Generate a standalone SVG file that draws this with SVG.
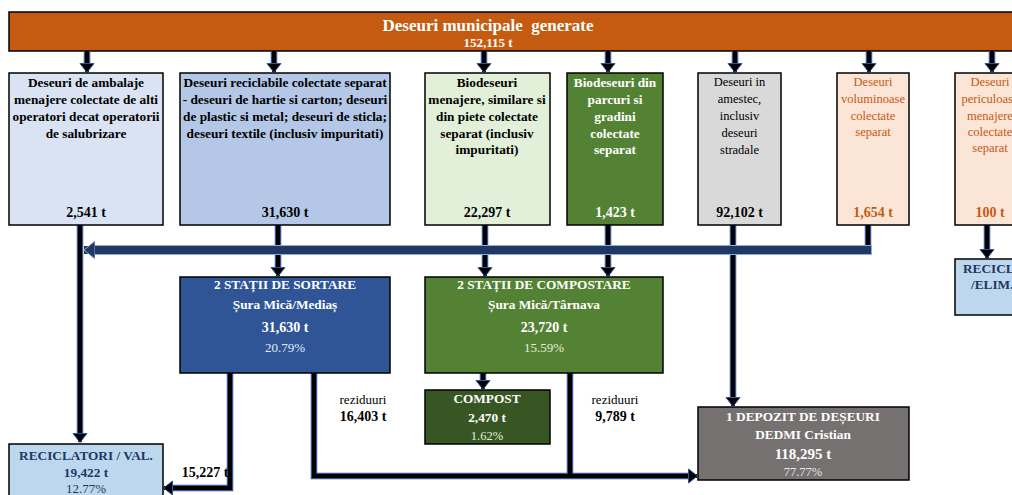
<svg xmlns="http://www.w3.org/2000/svg" width="1012" height="495" viewBox="0 0 1012 495">
<style>
text{font-family:"Liberation Serif","Times New Roman",serif;font-size:12.5px;text-anchor:middle}
.b{font-weight:bold;font-size:13.3px}
.a{font-weight:bold;font-size:14px}
.w{fill:#ffffff}
.k{fill:#000000}
.o{fill:#c55a11}
.n{fill:#1f3864}
.box{stroke:#000;stroke-width:1.5}
.edge{fill:none;stroke:#2f5597;stroke-width:6.5}
.core{fill:none;stroke:#000;stroke-width:4}
.big{fill:none;stroke:#8faadc;stroke-width:10}
.bigc{fill:none;stroke:#1f3864;stroke-width:8}
</style>
<defs>
<marker id="ah" markerUnits="userSpaceOnUse" viewBox="0 0 10 16" refX="9" refY="8" markerWidth="10" markerHeight="16" orient="auto">
<path d="M0.5,1 L9.5,8 L0.5,15 Z" fill="#000" stroke="#2f5597" stroke-width="1"/>
</marker>
<marker id="ahb" markerUnits="userSpaceOnUse" viewBox="0 0 12 18" refX="11" refY="9" markerWidth="12" markerHeight="18" orient="auto">
<path d="M0,0 L11,9 L0,18 Z" fill="#1f3864" stroke="#8faadc" stroke-width="1"/>
</marker>
</defs>

<g id="n-total">
<rect class="box" x="9" y="12" width="1015" height="39" fill="#c55a11"/>
<text class="w" x="488" y="31" xml:space="preserve" style="font-weight:bold;font-size:17px">Deseuri municipale  generate</text>
<text class="w" x="488" y="47" style="font-weight:bold;font-size:13px">152,115 t</text>
</g>

<g id="connectors">
<g id="top-arrows">
<path class="edge" d="M87 51V64 M274 51V64 M484 51V64 M608 51V64 M735 51V64 M869 51V64 M992 51V64"/>
<path class="core" d="M87 51V72" marker-end="url(#ah)"/>
<path class="core" d="M274 51V72" marker-end="url(#ah)"/>
<path class="core" d="M484 51V72" marker-end="url(#ah)"/>
<path class="core" d="M608 51V72" marker-end="url(#ah)"/>
<path class="core" d="M735 51V72" marker-end="url(#ah)"/>
<path class="core" d="M869 51V72" marker-end="url(#ah)"/>
<path class="core" d="M992 51V72" marker-end="url(#ah)"/>
</g>
<path class="edge" d="M80 225V434 M278 225V268 M485 225V268 M608 225V268 M733 225V398 M868 225V250 M987 225V251 M483 373V382 M230 373V488H170 M314 373V476H689 M570 373V476"/>
<path class="core" d="M80 225V442" marker-end="url(#ah)"/>
<path class="core" d="M278 225V276" marker-end="url(#ah)"/>
<path class="core" d="M485 225V276" marker-end="url(#ah)"/>
<path class="core" d="M608 225V276" marker-end="url(#ah)"/>
<path class="core" d="M733 225V406" marker-end="url(#ah)"/>
<path class="core" d="M868 225V250"/>
<path class="core" d="M987 225V258" marker-end="url(#ah)"/>
<path class="core" d="M483 373V389" marker-end="url(#ah)"/>
<path class="core" d="M230 373V488H164" marker-end="url(#ah)"/>
<path class="core" d="M314 373V476H697" marker-end="url(#ah)"/>
<path class="core" d="M570 373V476"/>
<path class="big" d="M872 250H94"/>
<path class="bigc" d="M871 250H84" marker-end="url(#ahb)"/>
</g>

<g id="n-ambalaje">
<rect class="box" x="9" y="73" width="154" height="152" fill="#dae3f3"/>
<text class="b k" x="86" y="87">Deseuri de ambalaje</text>
<text class="b k" x="86" y="104">menajere colectate de alti</text>
<text class="b k" x="86" y="121">operatori decat operatorii</text>
<text class="b k" x="86" y="138">de salubrizare</text>
<text class="a k" x="86" y="217">2,541 t</text>
</g>

<g id="n-reciclabile">
<rect class="box" x="180" y="73" width="210" height="152" fill="#b4c7e7"/>
<text class="b k" x="285" y="87">Deseuri reciclabile colectate separat</text>
<text class="b k" x="285" y="104">- deseuri de hartie si carton; deseuri</text>
<text class="b k" x="285" y="121">de plastic si metal; deseuri de sticla;</text>
<text class="b k" x="285" y="138">deseuri textile (inclusiv impuritati)</text>
<text class="a k" x="285" y="217">31,630 t</text>
</g>

<g id="n-biomenajere">
<rect class="box" x="425" y="73" width="125" height="152" fill="#e2f0d9"/>
<text class="b k" x="487" y="87">Biodeseuri</text>
<text class="b k" x="487" y="104">menajere, similare si</text>
<text class="b k" x="487" y="121">din piete colectate</text>
<text class="b k" x="487" y="138">separat (inclusiv</text>
<text class="b k" x="487" y="154">impuritati)</text>
<text class="a k" x="487" y="217">22,297 t</text>
</g>

<g id="n-bioparcuri">
<rect class="box" x="567" y="73" width="96" height="152" fill="#548235"/>
<text class="b w" x="615" y="87">Biodeseuri din</text>
<text class="b w" x="615" y="104">parcuri si</text>
<text class="b w" x="615" y="121">gradini</text>
<text class="b w" x="615" y="138">colectate</text>
<text class="b w" x="615" y="154">separat</text>
<text class="a w" x="615" y="217">1,423 t</text>
</g>

<g id="n-amestec">
<rect class="box" x="698" y="73" width="83" height="152" fill="#d9d9d9"/>
<text class="k" x="739.5" y="86">Deseuri in</text>
<text class="k" x="739.5" y="103">amestec,</text>
<text class="k" x="739.5" y="120">inclusiv</text>
<text class="k" x="739.5" y="137">deseuri</text>
<text class="k" x="739.5" y="154">stradale</text>
<text class="a k" x="739.5" y="217">92,102 t</text>
</g>

<g id="n-voluminoase">
<rect class="box" x="837" y="73" width="72" height="152" fill="#fbe5d6"/>
<text class="o" x="873" y="86">Deseuri</text>
<text class="o" x="873" y="103">voluminoase</text>
<text class="o" x="873" y="120">colectate</text>
<text class="o" x="873" y="136">separat</text>
<text class="a o" x="873" y="217">1,654 t</text>
</g>

<g id="n-periculoase">
<rect class="box" x="955" y="73" width="75" height="152" fill="#fbe5d6"/>
<text class="o" x="990" y="86">Deseuri</text>
<text class="o" x="990" y="103">periculoase</text>
<text class="o" x="990" y="120">menajere</text>
<text class="o" x="990" y="136">colectate</text>
<text class="o" x="990" y="152">separat</text>
<text class="a o" x="990" y="217">100 t</text>
</g>

<g id="n-sortare">
<rect class="box" x="180" y="277" width="210" height="96" fill="#2f5597"/>
<text class="b w" x="285" y="289">2 STAȚII DE SORTARE</text>
<text class="b w" x="285" y="309">Șura Mică/Mediaș</text>
<text class="a w" x="285" y="332">31,630 t</text>
<text x="285" y="352" fill="#e4ebf7" style="font-size:13px">20.79%</text>
</g>

<g id="n-compostare">
<rect class="box" x="425" y="277" width="238" height="96" fill="#548235"/>
<text class="b w" x="544" y="289">2 STAȚII DE COMPOSTARE</text>
<text class="b w" x="544" y="309">Șura Mică/Târnava</text>
<text class="a w" x="544" y="332">23,720 t</text>
<text x="544" y="352" fill="#e2f0d9" style="font-size:13px">15.59%</text>
</g>

<g id="n-compost">
<rect class="box" x="425" y="390" width="125" height="54" fill="#375623"/>
<text class="b w" x="487" y="403">COMPOST</text>
<text class="b w" x="487" y="422">2,470 t</text>
<text x="487" y="440" fill="#e2f0d9">1.62%</text>
</g>

<g id="n-reciclatori">
<rect class="box" x="9" y="444" width="154" height="60" fill="#bdd7ee"/>
<text class="b n" x="86" y="460">RECICLATORI / VAL.</text>
<text class="b n" x="86" y="477">19,422 t</text>
<text class="n" x="86" y="493" style="font-size:13px">12.77%</text>
</g>

<g id="n-depozit">
<rect class="box" x="698" y="407" width="211" height="73" fill="#767171"/>
<text class="b w" x="803" y="421">1 DEPOZIT DE DEȘEURI</text>
<text class="b w" x="803" y="439">DEDMI Cristian</text>
<text class="w" x="803" y="459" style="font-weight:bold;font-size:15px">118,295 t</text>
<text x="803" y="476" fill="#e7e6e6">77.77%</text>
</g>

<g id="n-elim">
<rect class="box" x="955" y="259" width="75" height="56" fill="#bdd7ee"/>
<text class="b n" x="963" y="273" style="text-anchor:start">RECICLARE</text>
<text class="b n" x="971" y="289" style="text-anchor:start">/ELIM.</text>
</g>

<g id="labels">
<text class="k" x="363" y="404" style="font-size:13px">reziduuri</text>
<text class="a k" x="363" y="421">16,403 t</text>
<text class="k" x="615" y="404" style="font-size:13px">reziduuri</text>
<text class="a k" x="615" y="421">9,789 t</text>
<text class="a k" x="205" y="477">15,227 t</text>
</g>
</svg>
